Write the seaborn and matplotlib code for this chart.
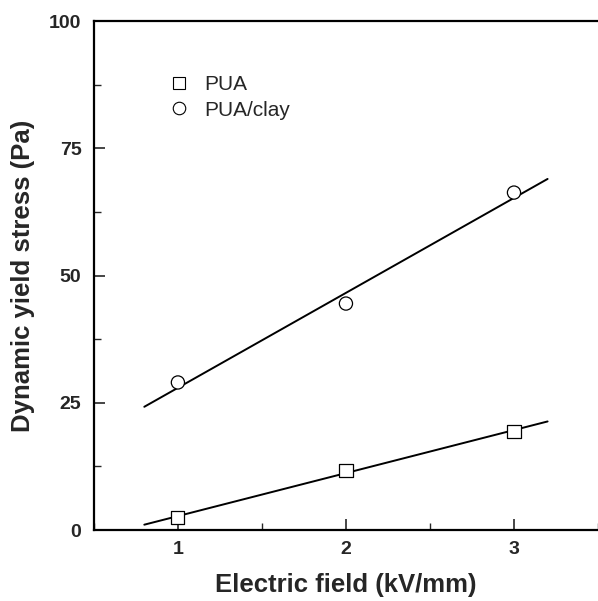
import numpy as np
import pandas as pd
import seaborn as sns
import matplotlib
matplotlib.use("Agg")
import matplotlib.pyplot as plt
from matplotlib.ticker import MultipleLocator
from matplotlib.lines import Line2D

field = [1, 2, 3]
pua = [2.5, 11.7, 19.4]
pua_clay = [29.0, 44.5, 66.3]
series_names = ["PUA", "PUA/clay"]

sns.set_style("ticks")
plt.rcParams['font.family'] = ['Liberation Sans', 'DejaVu Sans']

df = pd.DataFrame({
    "field": field * 2,
    "stress": pua + pua_clay,
    "series": [series_names[0]] * 3 + [series_names[1]] * 3,
})

fig = plt.figure(figsize=(5.98, 6.01), dpi=100)
ax = fig.add_axes([0.157, 0.118, 0.843, 0.847])

sns.scatterplot(data=df, x="field", y="stress", style="series",
                markers={"PUA": "s", "PUA/clay": "o"}, s=90,
                facecolor="white", edgecolor="black", linewidth=0.9,
                ax=ax, legend=False, zorder=3)

xfit = np.array([0.8, 3.2])
for vals in (pua, pua_clay):
    k, b = np.polyfit(field, vals, 1)
    sns.lineplot(x=xfit, y=k * xfit + b, color="black", lw=1.4, ax=ax, zorder=2)

handles = [Line2D([], [], marker="s", ls="none", mfc="white", mec="black", ms=9, mew=0.8),
           Line2D([], [], marker="o", ls="none", mfc="white", mec="black", ms=9, mew=0.8)]
ax.legend(handles, series_names, loc="upper left", bbox_to_anchor=(0.091, 0.93),
          frameon=False, fontsize=15, handletextpad=0.2, labelspacing=0.3)

ax.set_xlim(0.5, 3.5)
ax.set_ylim(0, 100)
ax.xaxis.set_major_locator(MultipleLocator(1))
ax.xaxis.set_minor_locator(MultipleLocator(0.5))
ax.yaxis.set_major_locator(MultipleLocator(25))
ax.yaxis.set_minor_locator(MultipleLocator(12.5))
ax.tick_params(which="both", direction="in", top=False, right=False)
ax.tick_params(which="major", length=8, width=1.2, labelsize=14)
ax.tick_params(axis="x", which="major", pad=8)
ax.tick_params(axis="y", which="major", pad=9)
ax.tick_params(which="minor", length=5, width=1.0)
for lab in ax.get_xticklabels() + ax.get_yticklabels():
    lab.set_fontweight("bold")

for s in ["left", "bottom", "top"]:
    ax.spines[s].set_linewidth(1.6)
    ax.spines[s].set_color("black")
ax.spines["right"].set_visible(False)

ax.set_xlabel("Electric field (kV/mm)", fontsize=18.5, fontweight="bold", labelpad=11)
ax.set_ylabel("Dynamic yield stress (Pa)", fontsize=18.5, fontweight="bold", labelpad=10)

fig.savefig("out.png", dpi=100)
